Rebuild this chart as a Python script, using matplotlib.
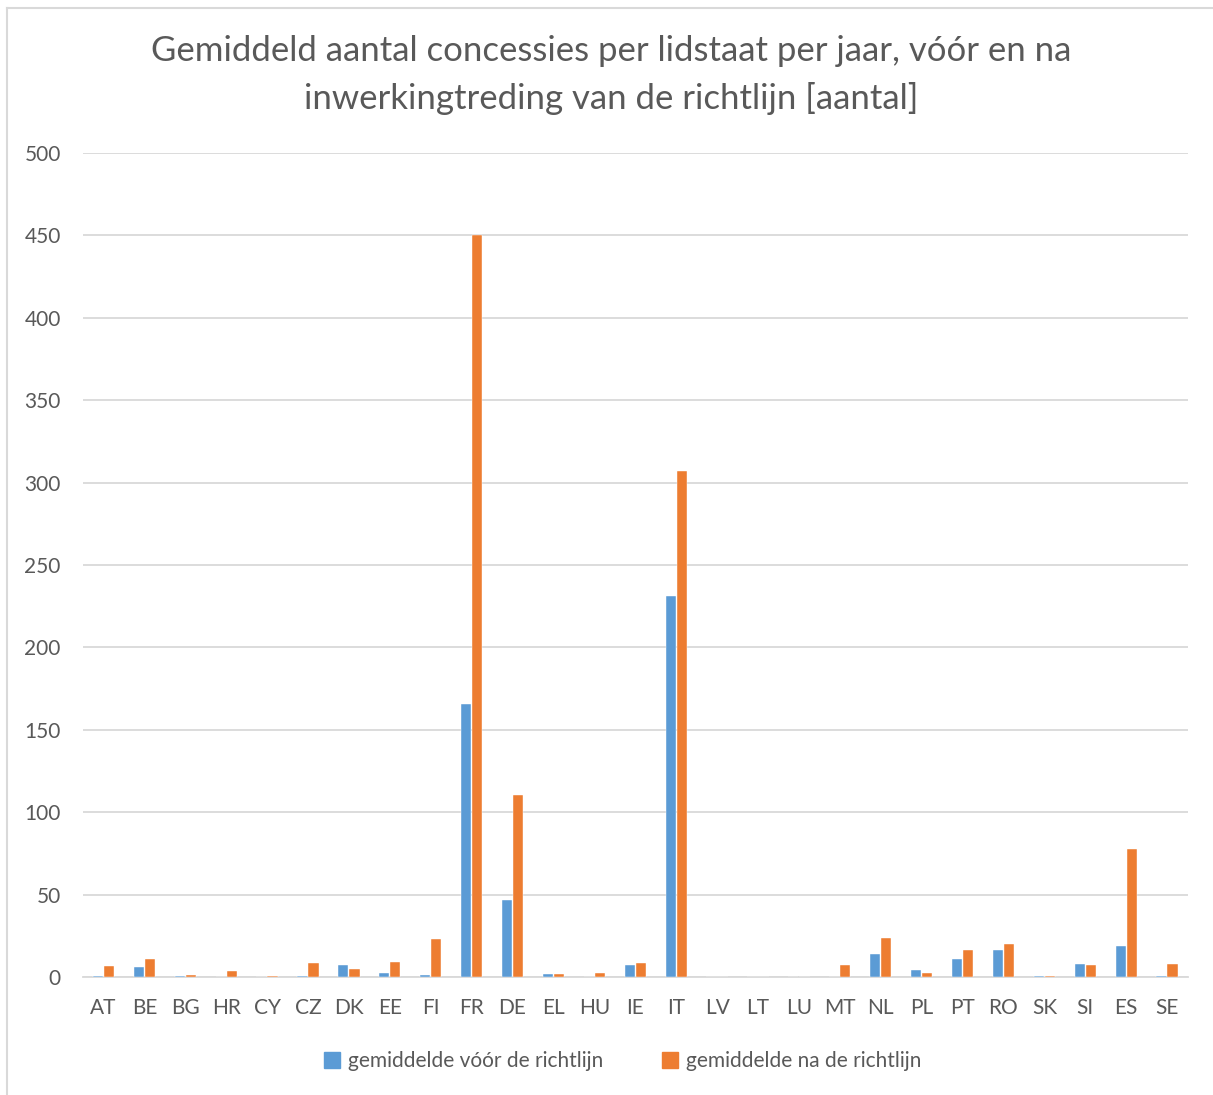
import numpy as np
import matplotlib
matplotlib.use("Agg")
import matplotlib.pyplot as plt
from matplotlib.lines import Line2D

plt.rcParams["font.family"] = ["Lato", "DejaVu Sans"]

landen = ["AT", "BE", "BG", "HR", "CY", "CZ", "DK", "EE", "FI", "FR", "DE", "EL", "HU", "IE",
          "IT", "LV", "LT", "LU", "MT", "NL", "PL", "PT", "RO", "SK", "SI", "ES", "SE"]
voor = [0.8, 6.1, 0.8, 0.1, 0.0, 0.6, 7.3, 2.4, 1.4, 165.7, 46.5, 1.8, 0.0, 7.3,
        231.2, 0.0, 0.0, 0.2, 0.1, 13.9, 4.3, 10.6, 16.5, 0.6, 8.0, 18.8, 0.6]
na = [6.7, 10.8, 1.2, 3.9, 0.6, 8.2, 4.7, 8.8, 23.3, 450.0, 110.4, 1.8, 2.7, 8.2,
      307.0, 0.1, 0.0, 0.2, 7.1, 23.5, 2.7, 16.3, 19.8, 0.6, 7.3, 77.7, 7.6]
reeksen = ["gemiddelde vóór de richtlijn", "gemiddelde na de richtlijn"]
titel = "Gemiddeld aantal concessies per lidstaat per jaar, vóór en na\ninwerkingtreding van de richtlijn [aantal]"

BLAUW = "#5B9BD5"
ORANJE = "#ED7D31"
GRIJS = "#595959"

fig = plt.figure(figsize=(12.13, 10.95), dpi=100)
ax = fig.add_axes([0.0684, 0.1078, 0.9106, 0.7525])

x = np.arange(len(landen))
w = 0.25
ax.bar(x - w / 2 - 0.01, voor, w, color=BLAUW, edgecolor="white", linewidth=0.3, zorder=3)
ax.bar(x + w / 2 + 0.01, na, w, color=ORANJE, edgecolor="white", linewidth=0.3, zorder=3)

ax.set_xlim(-0.5, len(landen) - 0.5)
ax.set_ylim(0, 500)
ax.set_yticks(np.arange(0, 501, 50))
ax.set_xticks(x)
ax.set_xticklabels(landen)
ax.grid(axis="y", color="#D9D9D9", linewidth=1.3, zorder=0)
ax.tick_params(axis="both", length=0, labelsize=15, colors=GRIJS)
ax.tick_params(axis="y", pad=16)
ax.tick_params(axis="x", pad=15)
for s in ["top", "right", "left"]:
    ax.spines[s].set_visible(False)
ax.spines["bottom"].set_color("#D9D9D9")
ax.spines["bottom"].set_linewidth(1.3)

fig.text(0.504, 1 - 75 / 1095, titel, ha="center", va="center", fontsize=25,
         color=GRIJS, linespacing=1.55)

handles = [Line2D([], [], marker="s", linestyle="none", markersize=11, color=c)
           for c in (BLAUW, ORANJE)]
fig.legend(handles, reeksen, loc="center", bbox_to_anchor=(0.508, 1 - 1061 / 1095),
           ncol=2, frameon=False, fontsize=15, labelcolor=GRIJS,
           handletextpad=-0.25, columnspacing=2.2)

# kaderrand links en boven
fig.add_artist(Line2D([6.5 / 1213, 6.5 / 1213], [0, 1 - 8 / 1095], color="#D9D9D9",
                      linewidth=1.5, transform=fig.transFigure))
fig.add_artist(Line2D([6.5 / 1213, 1], [1 - 8 / 1095, 1 - 8 / 1095], color="#D9D9D9",
                      linewidth=1.5, transform=fig.transFigure))

fig.savefig("out.png", dpi=100, facecolor="white")
